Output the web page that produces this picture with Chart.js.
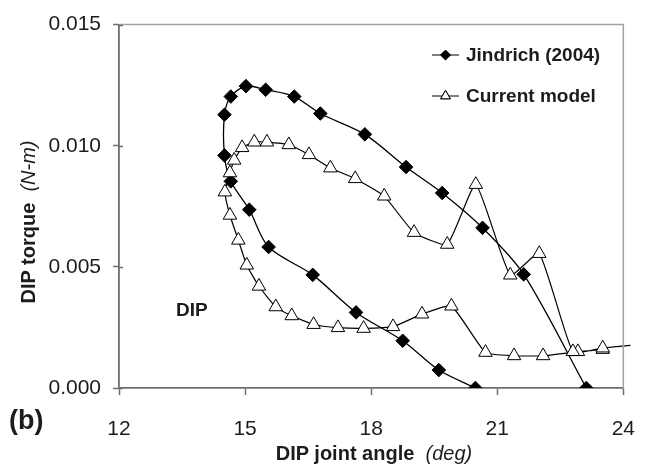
<!DOCTYPE html>
<html>
<head>
<meta charset="utf-8">
<script src="https://cdn.jsdelivr.net/npm/chart.js@4.4.0/dist/chart.umd.min.js"></script>
<style>
  body { margin: 0; background: #fff; }
  #wrap { position: relative; width: 657px; height: 468px; font-family: "Liberation Sans", Arial, sans-serif; color: #1c1c1c; }
  canvas { position: absolute; left: 0; top: 0; }
  .lbl { position: absolute; white-space: nowrap; line-height: 1; }
  .lbl b { font-weight: bold; }
  .lbl i { font-style: italic; font-weight: normal; }
</style>
</head>
<body>
<div id="wrap">
  <canvas id="chart" width="657" height="468"></canvas>
  <div class="lbl" id="xTitle" style="left:374px; top:443px; font-size:20px; transform:translateX(-50%);"><b>DIP joint angle</b>&nbsp;&nbsp;<i>(deg)</i></div>
  <div class="lbl" id="yTitle" style="left:28px; top:222px; font-size:20px; transform:translate(-50%,-50%) rotate(-90deg);"><b>DIP torque</b>&nbsp;&nbsp;<i>(N-m)</i></div>
  <div class="lbl" style="left:9px; top:407px; font-size:27px; font-weight:bold;">(b)</div>
  <div class="lbl" style="left:176px; top:300px; font-size:19px; font-weight:bold;">DIP</div>
</div>
<script>
// DIP joint angle (deg) and torque (N-m)
const jindrichAngle = [23.12, 21.63, 20.65, 19.69, 18.83, 17.85, 16.79, 16.17, 15.49, 15.02, 14.66,
  14.51, 14.51, 14.66, 15.10, 15.56, 16.61, 17.64, 18.75, 19.61, 20.48];
const jindrichTorque = [0.0000, 0.00469, 0.00661, 0.00805, 0.00912, 0.01047, 0.01133, 0.01203, 0.01231, 0.01246, 0.01203,
  0.01128, 0.00960, 0.00853, 0.00736, 0.00582, 0.00467, 0.00312, 0.00195, 0.00074, 0.0000];

const modelAngle = [23.51, 22.92, 22.09, 21.40, 20.72, 19.91, 19.21, 18.52, 17.82, 17.21, 16.63, 16.11,
  15.73, 15.33, 15.04, 14.84, 14.64, 14.52, 14.64, 14.74, 14.93, 15.22, 15.52, 16.04, 16.52, 17.03,
  17.62, 18.31, 19.02, 19.81, 20.49, 21.31, 22.00, 22.80, 23.51, 24.17];
const modelTorque = [0.00159, 0.00150, 0.00133, 0.00133, 0.00147, 0.00338, 0.00305, 0.00253, 0.00246, 0.00249, 0.00262, 0.00298,
  0.00335, 0.00420, 0.00507, 0.00610, 0.00713, 0.00809, 0.00888, 0.00940, 0.00992, 0.01015, 0.01015, 0.01004, 0.00963, 0.00908,
  0.00864, 0.00792, 0.00642, 0.00593, 0.00840, 0.00466, 0.00555, 0.00150, 0.00165, 0.00176];

const xTicks = [12, 15, 18, 21, 24];
const yTicks = [0, 0.005, 0.010, 0.015];

const seriesNames = ["Jindrich (2004)", "Current model"];

const toPoints = (xs, ys) => xs.map((x, i) => ({ x: x, y: ys[i] }));

// last model point lies past the axis end: line only, no marker
const modelRadius = modelAngle.map((x, i) => (i === modelAngle.length - 1 ? 0 : 7.8));

const axisGray = "#6e6e6e";
const textColor = "#1c1c1c";

// top/right frame, inner half of the y ticks, and the legend inside the plot
const framePlugin = {
  id: "frame",
  afterDatasetsDraw(chart) {
    const { ctx, chartArea: a } = chart;
    ctx.save();
    ctx.strokeStyle = "#a3a3a3";
    ctx.lineWidth = 1.5;
    ctx.beginPath();
    ctx.moveTo(a.left, a.top);
    ctx.lineTo(a.right, a.top);
    ctx.lineTo(a.right, a.bottom);
    ctx.stroke();

    ctx.strokeStyle = axisGray;
    ctx.beginPath();
    yTicks.forEach((v) => {
      const py = Math.round(chart.scales.y.getPixelForValue(v)) + 0.5;
      ctx.moveTo(a.left, py);
      ctx.lineTo(a.left + 4, py);
    });
    ctx.stroke();

    const rows = [
      { y: 55, style: "rectRot", r: 4.8, fill: "#000" },
      { y: 96, style: "triangle", r: 5.6, fill: "#fff" },
    ];
    rows.forEach((row, i) => {
      ctx.strokeStyle = "#000";
      ctx.lineWidth = 1;
      ctx.beginPath();
      ctx.moveTo(432, row.y);
      ctx.lineTo(459, row.y);
      ctx.stroke();
      ctx.fillStyle = row.fill;
      Chart.helpers.drawPoint(ctx, { pointStyle: row.style, radius: row.r, borderWidth: 1 }, 445.5, row.y);
      ctx.fill();
      ctx.stroke();
      ctx.fillStyle = textColor;
      ctx.font = "bold 19px 'Liberation Sans', Arial, sans-serif";
      ctx.textBaseline = "middle";
      ctx.fillText(seriesNames[i], 466, row.y + 1);
    });
    ctx.restore();
  },
};

new Chart(document.getElementById("chart"), {
  type: "scatter",
  data: {
    datasets: [
      {
        label: seriesNames[0],
        data: toPoints(jindrichAngle, jindrichTorque),
        showLine: true,
        tension: 0.3,
        borderColor: "#000",
        borderWidth: 1.3,
        pointStyle: "rectRot",
        pointRadius: 6.8,
        pointBackgroundColor: "#000",
        pointBorderColor: "#000",
        pointBorderWidth: 1,
        order: 1,
      },
      {
        label: seriesNames[1],
        data: toPoints(modelAngle, modelTorque),
        showLine: true,
        tension: 0.15,
        borderColor: "#000",
        borderWidth: 1.2,
        pointStyle: "triangle",
        pointRadius: modelRadius,
        pointBackgroundColor: "#fff",
        pointBorderColor: "#000",
        pointBorderWidth: 1,
        clip: 12,
        order: 0,
      },
    ],
  },
  options: {
    responsive: false,
    animation: false,
    devicePixelRatio: 1,
    events: [],
    layout: { padding: { top: 24, right: 15, left: 0, bottom: 0 } },
    plugins: { legend: { display: false }, tooltip: { enabled: false } },
    scales: {
      x: {
        type: "linear",
        min: xTicks[0],
        max: xTicks[xTicks.length - 1],
        afterFit: (s) => { s.height = 80; },
        afterBuildTicks: (s) => { s.ticks = xTicks.map((v) => ({ value: v })); },
        ticks: {
          color: textColor,
          font: { family: "'Liberation Sans', Arial, sans-serif", size: 21 },
          padding: 22,
          maxRotation: 0,
        },
        grid: { drawOnChartArea: false, tickLength: 7, tickColor: axisGray, tickWidth: 1.5 },
        border: { color: axisGray, width: 1.8 },
      },
      y: {
        type: "linear",
        min: yTicks[0],
        max: yTicks[yTicks.length - 1],
        afterFit: (s) => { s.width = 119; },
        afterBuildTicks: (s) => { s.ticks = yTicks.map((v) => ({ value: v })); },
        ticks: {
          color: textColor,
          font: { family: "'Liberation Sans', Arial, sans-serif", size: 21 },
          padding: 12,
          callback: (v) => v.toFixed(3),
        },
        grid: { drawOnChartArea: false, tickLength: 6, tickColor: axisGray, tickWidth: 1.5 },
        border: { color: axisGray, width: 1.8 },
      },
    },
  },
  plugins: [framePlugin],
});
</script>
</body>
</html>
